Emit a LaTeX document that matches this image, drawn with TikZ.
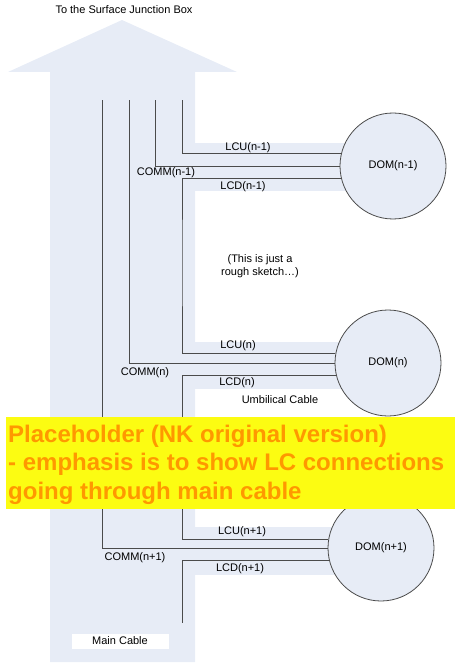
\documentclass[tikz,border=0pt]{standalone}
\usepackage{fontspec}
\setmainfont{Liberation Sans}
\usepackage{xcolor}
\usepackage{tikz}
\definecolor{cableblue}{RGB}{231,236,246}
\definecolor{wiregray}{RGB}{75,75,75}
\definecolor{noteyellow}{RGB}{252,252,18}
\definecolor{noteorange}{RGB}{255,152,0}
\begin{document}
\begin{tikzpicture}[x=1pt, y=-1pt,
  every node/.style={font=\fontsize{11}{13}\selectfont, inner sep=0pt},
  cable/.style={fill=cableblue},
  wire/.style={draw=wiregray, line width=0.9pt},
  dom/.style={circle, draw=wiregray, fill=cableblue, minimum size=106pt, line width=0.8pt},
  note/.style={font=\fontsize{24}{28}\selectfont\bfseries, text=noteorange, anchor=base west}
]
\useasboundingbox (0,0) rectangle (455,668);
\fill[cable] (8,72) -- (122,20) -- (237,72) -- (195,72) -- (195,662) -- (50,662) -- (50,72) -- cycle;
\fill[cable] (195,143) rectangle (390,191);
\fill[cable] (195,342) rectangle (385,389);
\fill[cable] (195,527) rectangle (378,575);
\node (sjb) at (124,10) {To the Surface Junction Box};
\coordinate (t1) at (102,100);
\coordinate (t2) at (129,100);
\coordinate (t3) at (155,100);
\coordinate (t4) at (182,100);
\coordinate (j1) at (182,260);
\coordinate (j2) at (182,460);
\coordinate (b1) at (182,623);
\node[dom] (dom1) at (393,166) {DOM(n-1)};
\node[dom] (dom2) at (388,363) {DOM(n)};
\node[dom] (dom3) at (381,548) {DOM(n+1)};
\draw[wire] (dom1.166) -| (t4);
\draw[wire] (dom1.west) -| (t3);
\draw[wire] (dom1.194) -| (j1) |- (dom2.170);
\draw[wire] (dom2.west) -| (t2);
\draw[wire] (dom2.194) -| (j2) |- (dom3.171);
\draw[wire] (dom3.west) -| (t1);
\draw[wire] (dom3.194) -| (b1);
\node (lcu1) at (248,148) {LCU(n-1)};
\node (comm1) at (166,173) {COMM(n-1)};
\node (lcd1) at (243,187) {LCD(n-1)};
\node[align=center] (sketch) at (260,266) {(This is just a\\rough sketch…)};
\node (lcu2) at (238,346) {LCU(n)};
\node (comm2) at (145,373) {COMM(n)};
\node (lcd2) at (237,383) {LCD(n)};
\node (umb) at (280,400) {Umbilical Cable};
\node (lcu3) at (242,532) {LCU(n+1)};
\node (comm3) at (135,558) {COMM(n+1)};
\node (lcd3) at (240,569) {LCD(n+1)};
\node[fill=white, minimum width=97pt, minimum height=15pt] (main) at (120,641) {Main Cable};
\node[fill=noteyellow, anchor=north west, minimum width=449pt, minimum height=92pt] (ph) at (6,417) {};
\node[note] (ph1) at (8,442) {Placeholder (NK original version)};
\node[note] (ph2) at (8,470.5) {- emphasis is to show LC connections};
\node[note] (ph3) at (8,499) {going through main cable};
\end{tikzpicture}
\end{document}
